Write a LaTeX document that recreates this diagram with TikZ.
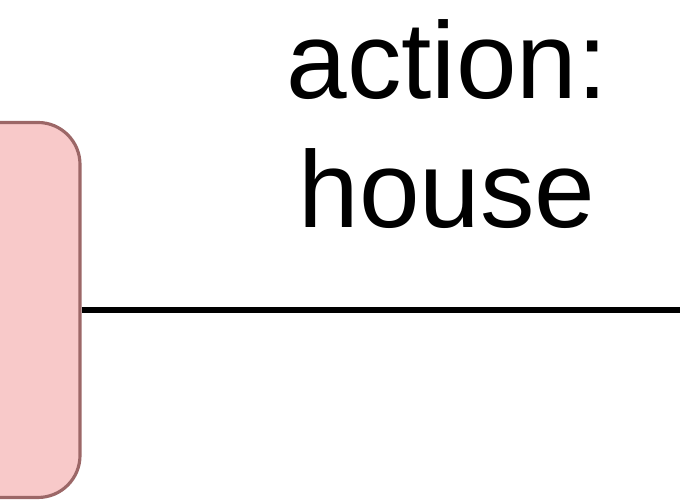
\documentclass[tikz,border=0pt]{standalone}
\usepackage{fontspec}
\setmainfont{Liberation Sans}
\usetikzlibrary{positioning}
\definecolor{statefill}{HTML}{F8C9C9}
\definecolor{stateline}{HTML}{9C6767}

\begin{document}
\begin{tikzpicture}
\tikzset{state/.style={draw=stateline, fill=statefill, line width=0.9pt, rounded corners=0.42cm, inner sep=0pt}}
\tikzset{trans/.style={line width=1.6pt, black}}
\tikzset{trans label/.style={align=center, inner sep=0pt, font=\fontsize{31}{36.5}\selectfont}}
\useasboundingbox (0,0) rectangle (6.8,5);
\clip (0,0) rectangle (6.8,5);
\node[state, minimum width=1.8cm, minimum height=3.75cm] (house) at (-0.1,1.9) {};
\coordinate (next) at (6.9,1.9);
\draw[trans] (house.east) -- (next);
\node[trans label] (action) at (4.47,3.76) {action:\\house};
\end{tikzpicture}
\end{document}
